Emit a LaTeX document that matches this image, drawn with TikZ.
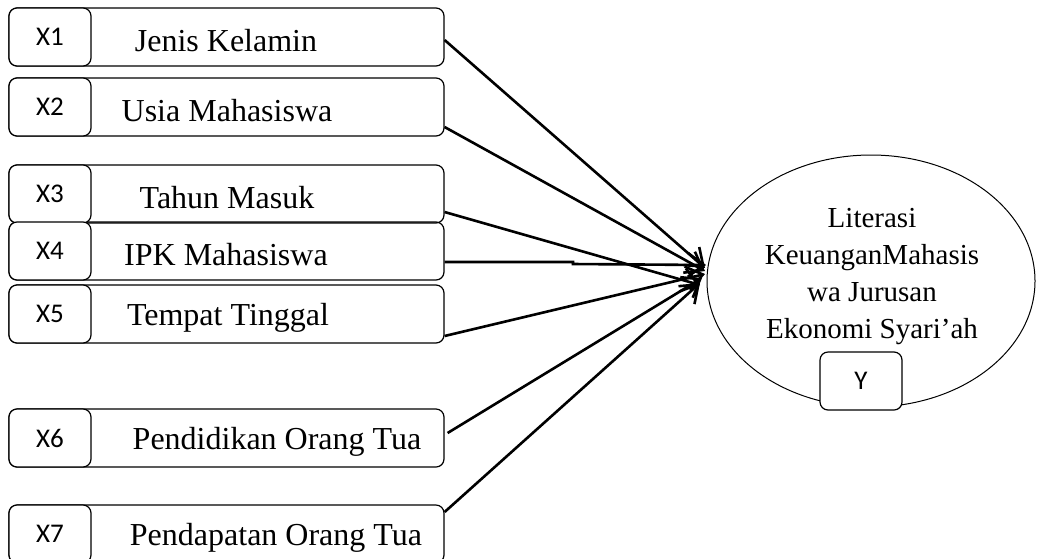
\documentclass[tikz,border=0pt]{standalone}
\usepackage{fontspec}
\setmainfont{Liberation Serif}
\newfontfamily\lblfont{Carlito}
\usetikzlibrary{arrows.meta,shapes.geometric}
\tikzset{
  bigbox/.style={draw, rounded corners=8pt, line width=1.2pt, minimum width=435pt, minimum height=58pt, inner sep=0pt},
  tagbox/.style={draw, rounded corners=8pt, line width=1.2pt, minimum width=82pt, minimum height=58pt, inner sep=0pt, fill=white, font=\lblfont\fontsize{27}{30}\selectfont},
  lbl/.style={font=\fontsize{32}{36}\selectfont, inner sep=0pt},
  conn/.style={line width=2.6pt, -{Straight Barb[length=16pt,width=24pt,line width=2.6pt]}},
}
\begin{document}
\begin{tikzpicture}[x=1pt,y=-1pt]
\useasboundingbox (0,0) rectangle (1043,558);
% boxes
\node[bigbox] (b1) at (226.5,37) {};
\node[bigbox] (b2) at (226.5,107) {};
\node[bigbox] (b3) at (226.5,194) {};
\node[bigbox] (b4) at (226.5,251) {};
\node[bigbox] (b5) at (226.5,314) {};
\node[bigbox] (b6) at (226.5,438) {};
\node[bigbox] (b7) at (226.5,534) {};
\node[tagbox] (t1) at (50,37) {X1};
\node[tagbox] (t2) at (50,107) {X2};
\node[tagbox] (t3) at (50,194) {X3};
\node[tagbox] (t4) at (50,251) {X4};
\node[tagbox] (t5) at (50,314) {X5};
\node[tagbox] (t6) at (50,438) {X6};
\node[tagbox] (t7) at (50,534) {X7};
\node[lbl] (l1) at (226,41) {Jenis Kelamin};
\node[lbl] (l2) at (227,111) {Usia Mahasiswa};
\node[lbl] (l3) at (227,198) {Tahun Masuk};
\node[lbl] (l4) at (226,255) {IPK Mahasiswa};
\node[lbl] (l5) at (228,318) {Tempat Tinggal};
\node[lbl] (l6) at (277,442) {Pendidikan Orang Tua};
\node[lbl] (l7) at (276,538) {Pendapatan Orang Tua};
% target
\node[draw, ellipse, line width=1pt, minimum width=328pt, minimum height=252pt, inner sep=0pt] (y) at (871,281) {};
\node[align=center, inner sep=0pt, font=\fontsize{29}{37}\selectfont] (ytext) at (872,277) {Literasi\\KeuanganMahasis\\wa Jurusan\\Ekonomi Syari’ah};
\node[tagbox] (ty) at (861,381) {Y};
% connectors
\coordinate (e1) at (705,268);
\coordinate (e2) at (705,271);
\coordinate (e3) at (700,285);
\coordinate (e4) at (706,265);
\coordinate (e5) at (705,274);
\coordinate (e6) at (702,278);
\coordinate (e7) at (700,283);
\draw[conn] (b1.east |- 0,40) -- (e1);
\draw[conn] (b2.east |- 0,127) -- (e2);
\draw[conn] (b3.east |- 0,212) -- (e3);
\draw[conn] (b4.east |- 0,262) -- (573,262) -- (573,264) -- (e4);
\draw[conn] (b5.east |- 0,336) -- (e5);
\draw[conn] ([xshift=3pt]b6.east |- 0,433) -- (e6);
\draw[conn] (b7.east |- 0,512) -- (e7);
\end{tikzpicture}
\end{document}
